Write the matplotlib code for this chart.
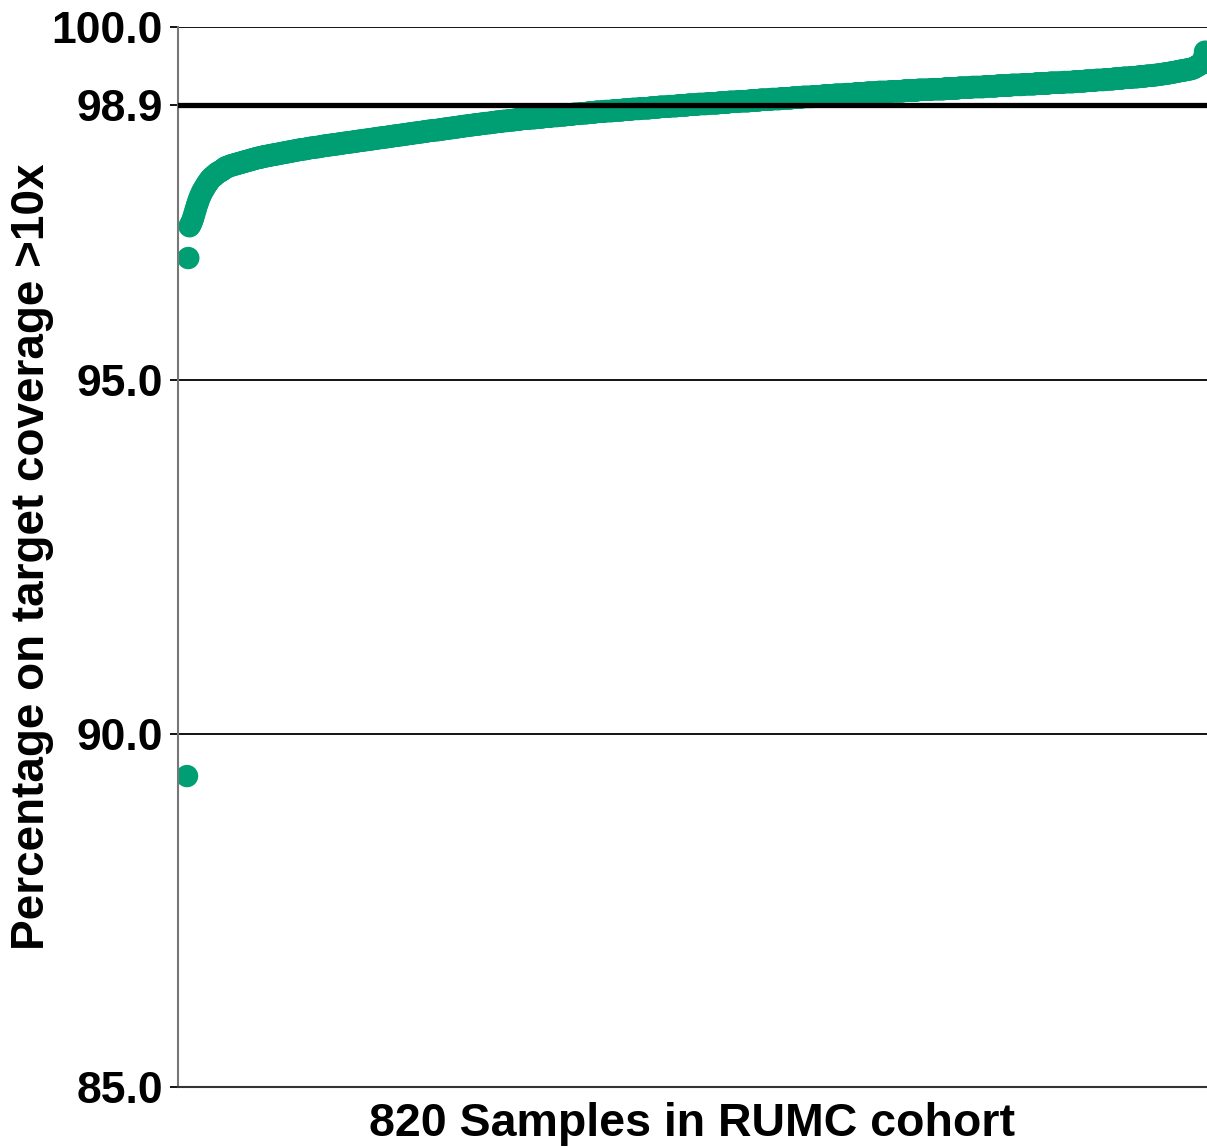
import numpy as np
import matplotlib
matplotlib.use('Agg')
import matplotlib.pyplot as plt

plt.rcParams['font.family'] = ['Liberation Sans', 'DejaVu Sans']
plt.rcParams['font.weight'] = 'bold'

# sorted coverage values (%)
# lowest samples, one by one
head_values = [89.40, 96.73, 97.18, 97.21, 97.25, 97.30, 97.36, 97.42, 97.48, 97.53,
               97.58, 97.62, 97.66, 97.69, 97.72, 97.75, 97.78, 97.80, 97.83, 97.85,
               97.87, 97.88, 97.90, 97.91, 97.93, 97.94, 97.95, 97.96, 97.97, 97.98]

# bulk of the cohort: coverage level -> number of samples at that level
levels = [98.00, 98.01, 98.02, 98.03, 98.04, 98.05, 98.06, 98.07, 98.08, 98.09,
          98.10, 98.11, 98.12, 98.13, 98.14, 98.15, 98.16, 98.17, 98.18, 98.19,
          98.20, 98.21, 98.22, 98.23, 98.24, 98.25, 98.26, 98.27, 98.28, 98.29,
          98.30, 98.31, 98.32, 98.33, 98.34, 98.35, 98.36, 98.37, 98.38, 98.39,
          98.40, 98.41, 98.42, 98.43, 98.44, 98.45, 98.46, 98.47, 98.48, 98.49,
          98.50, 98.51, 98.52, 98.53, 98.54, 98.55, 98.56, 98.57, 98.58, 98.59,
          98.60, 98.61, 98.62, 98.63, 98.64, 98.65, 98.66, 98.67, 98.68, 98.69,
          98.70, 98.71, 98.72, 98.73, 98.74, 98.75, 98.76, 98.77, 98.78, 98.79,
          98.80, 98.81, 98.82, 98.83, 98.84, 98.85, 98.86, 98.87, 98.88, 98.89,
          98.90, 98.91, 98.92, 98.93, 98.94, 98.95, 98.96, 98.97, 98.98, 98.99,
          99.00, 99.01, 99.02, 99.03, 99.04, 99.05, 99.06, 99.07, 99.08, 99.09,
          99.10, 99.11, 99.12, 99.13, 99.14, 99.15, 99.16, 99.17, 99.18, 99.19,
          99.20, 99.21, 99.22, 99.23, 99.24, 99.25, 99.26, 99.27, 99.28, 99.29,
          99.30, 99.31, 99.32, 99.33, 99.34, 99.35, 99.36, 99.37, 99.38, 99.39,
          99.40, 99.41, 99.42, 99.43, 99.44, 99.45, 99.46, 99.47, 99.48, 99.49]
counts = [1, 1, 2, 1, 2, 2, 2, 2, 2, 2,
          2, 2, 2, 2, 2, 3, 2, 3, 3, 3,
          3, 3, 3, 3, 3, 3, 3, 4, 3, 4,
          4, 3, 4, 4, 4, 4, 4, 4, 4, 4,
          4, 4, 4, 4, 4, 4, 4, 4, 4, 4,
          4, 4, 4, 4, 5, 4, 4, 4, 4, 4,
          4, 4, 5, 4, 5, 4, 5, 5, 5, 5,
          6, 6, 6, 6, 6, 6, 6, 6, 6, 6,
          7, 7, 8, 7, 7, 8, 7, 8, 7, 8,
          8, 8, 9, 8, 8, 9, 8, 9, 8, 9,
          8, 9, 8, 9, 9, 8, 9, 9, 10, 11,
          11, 11, 11, 11, 10, 11, 10, 11, 10, 10,
          11, 11, 9, 9, 8, 8, 7, 7, 7, 6,
          6, 6, 4, 4, 4, 3, 3, 3, 3, 3,
          3, 2, 1, 1, 1, 1, 1, 1, 1, 1]

# highest samples
tail_values = [99.56, 99.65]

threshold = 98.9
yticks = [85.0, 90.0, 95.0, 98.9, 100.0]
grid_levels = [90.0, 95.0, 100.0]

coverage = np.concatenate([head_values, np.repeat(levels, counts), tail_values])
samples = np.arange(len(coverage))

fig = plt.figure(figsize=(12.07, 11.47), dpi=100)
ax = fig.add_axes([0.1475, 0.0523, 0.8525, 0.9242])

for g in grid_levels:
    ax.axhline(g, color='black', lw=1.3, zorder=1)
ax.scatter(samples, coverage, s=260, color='#009E73', edgecolors='none', zorder=2)
ax.axhline(threshold, color='black', lw=3.8, zorder=3)

ax.set_xlim(-7.24, 820.6)
ax.set_ylim(85, 100)
ax.set_yticks(yticks)
ax.set_yticklabels(['%.1f' % v for v in yticks])
ax.set_xticks([])
ax.tick_params(axis='y', labelsize=32, length=6, width=1.3, pad=5, color='black')

ax.spines['top'].set_visible(False)
ax.spines['right'].set_visible(False)
ax.spines['left'].set_color('#777777')
ax.spines['left'].set_linewidth(1.5)
ax.spines['bottom'].set_color('#333333')
ax.spines['bottom'].set_linewidth(1.5)

ax.set_ylabel('Percentage on target coverage >10x', fontsize=33, fontweight='bold')
ax.yaxis.set_label_coords(-0.1205, 0.5)
ax.set_xlabel('820 Samples in RUMC cohort', fontsize=33.5, fontweight='bold', labelpad=11)

fig.savefig('out.png', dpi=100)
